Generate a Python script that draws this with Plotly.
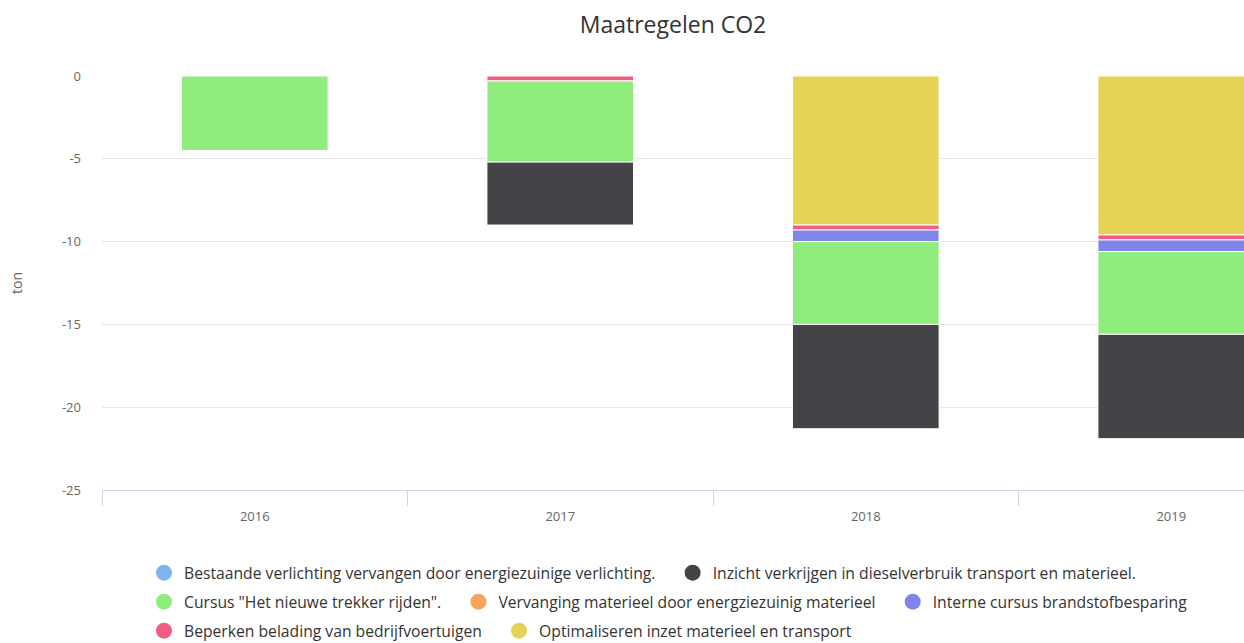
import plotly.graph_objects as go

years = ["2016", "2017", "2018", "2019"]

# series values (ton CO2), in legend order
bestaande = [None, None, None, None]
inzicht = [None, -3.8, -6.3, -6.3]
cursus = [-4.5, -4.9, -5.0, -5.0]
vervanging = [None, None, None, None]
interne = [None, None, -0.7, -0.7]
beperken = [None, -0.3, -0.3, -0.3]
optimaliseren = [None, None, -9.0, -9.6]

names = [
    "Bestaande verlichting vervangen door energiezuinige verlichting.",
    "Inzicht verkrijgen in dieselverbruik transport en materieel.",
    'Cursus "Het nieuwe trekker rijden".',
    "Vervanging materieel door energziezuinig materieel",
    "Interne cursus brandstofbesparing",
    "Beperken belading van bedrijfvoertuigen",
    "Optimaliseren inzet materieel en transport",
]
values = [bestaande, inzicht, cursus, vervanging, interne, beperken, optimaliseren]
colors = ["#7cb5ec", "#434348", "#90ed7d", "#f7a35c", "#8085e9", "#f15c80", "#e4d354"]
legend_rows = ["legend", "legend", "legend2", "legend2", "legend2", "legend3", "legend3"]
row_end = [False, True, False, False, True, False, True]

y_ticks = [0, -5, -10, -15, -20, -25]
y_ticktext = ["0", "-5", "-10", "-15", "-20", "-25"]

W, H = 1244, 643
FONT = "Open Sans"
L, T, B = 102, 76, 153
cat_px = 305.5
x_max = -0.5 + (W - L) / cat_px  # last category is cut off at the right edge

fig = go.Figure()

# stacking: last series in legend order sits nearest to zero
for i in reversed(range(len(names))):
    fig.add_trace(go.Bar(
        x=years, y=values[i], name=names[i],
        marker=dict(color=colors[i], line=dict(color="#ffffff", width=1)),
        showlegend=False, legendgroup=names[i],
    ))

# legend entries with round symbols (non-breaking spaces widen the item gap)
for i in range(len(names)):
    label = names[i] if row_end[i] else names[i] + "\u00a0\u00a0\u00a0"
    fig.add_trace(go.Scatter(
        x=[None], y=[None], mode="markers", name=label,
        marker=dict(color=colors[i], size=16, symbol="circle"),
        legendgroup=names[i], legend=legend_rows[i], showlegend=True,
        legendrank=i,
    ))

legend_common = dict(
    orientation="h", xref="container", yref="container",
    xanchor="left", yanchor="middle", x=144 / W,
    font=dict(family=FONT, size=15.7, color="#333333"),
    bgcolor="rgba(0,0,0,0)", itemclick=False, itemdoubleclick=False,
)

fig.update_layout(
    width=W, height=H,
    margin=dict(l=L, r=0, t=T, b=B, autoexpand=False),
    paper_bgcolor="#ffffff", plot_bgcolor="#ffffff",
    font=dict(family=FONT, color="#666666"),
    title=dict(text="Maatregelen CO2", x=673 / W, xref="container", xanchor="center",
               y=1 - 25 / H, yref="container", yanchor="middle",
               font=dict(family=FONT, size=23, color="#333333")),
    barmode="relative", bargap=0.52,
    showlegend=True,
    legend=dict(**legend_common, y=1 - 573 / H),
    legend2=dict(**legend_common, y=1 - 602 / H),
    legend3=dict(**legend_common, y=1 - 631 / H),
    xaxis=dict(
        type="category", categoryorder="array", categoryarray=years,
        range=[-0.5, x_max],
        tickson="boundaries", ticks="outside", ticklen=15, tickcolor="#ccd6eb",
        showline=True, linecolor="#ccd6eb", linewidth=1, showgrid=False,
        tickfont=dict(family=FONT, size=13, color="#666666"),
        ticklabelstandoff=14,
    ),
    yaxis=dict(
        range=[-25, 0], tickvals=y_ticks, ticktext=y_ticktext,
        showgrid=True, gridcolor="#e6e6e6", gridwidth=1,
        zeroline=False, showline=False, ticks="",
        ticklabelstandoff=20,
        tickfont=dict(family=FONT, size=13, color="#666666"),
        title=dict(text="ton", standoff=36, font=dict(family=FONT, size=14, color="#666666")),
    ),
)

fig.write_html(
    "out.html",
    config={"displayModeBar": False},
    post_script="document.body.style.margin='0';document.body.style.overflow='hidden';",
)
